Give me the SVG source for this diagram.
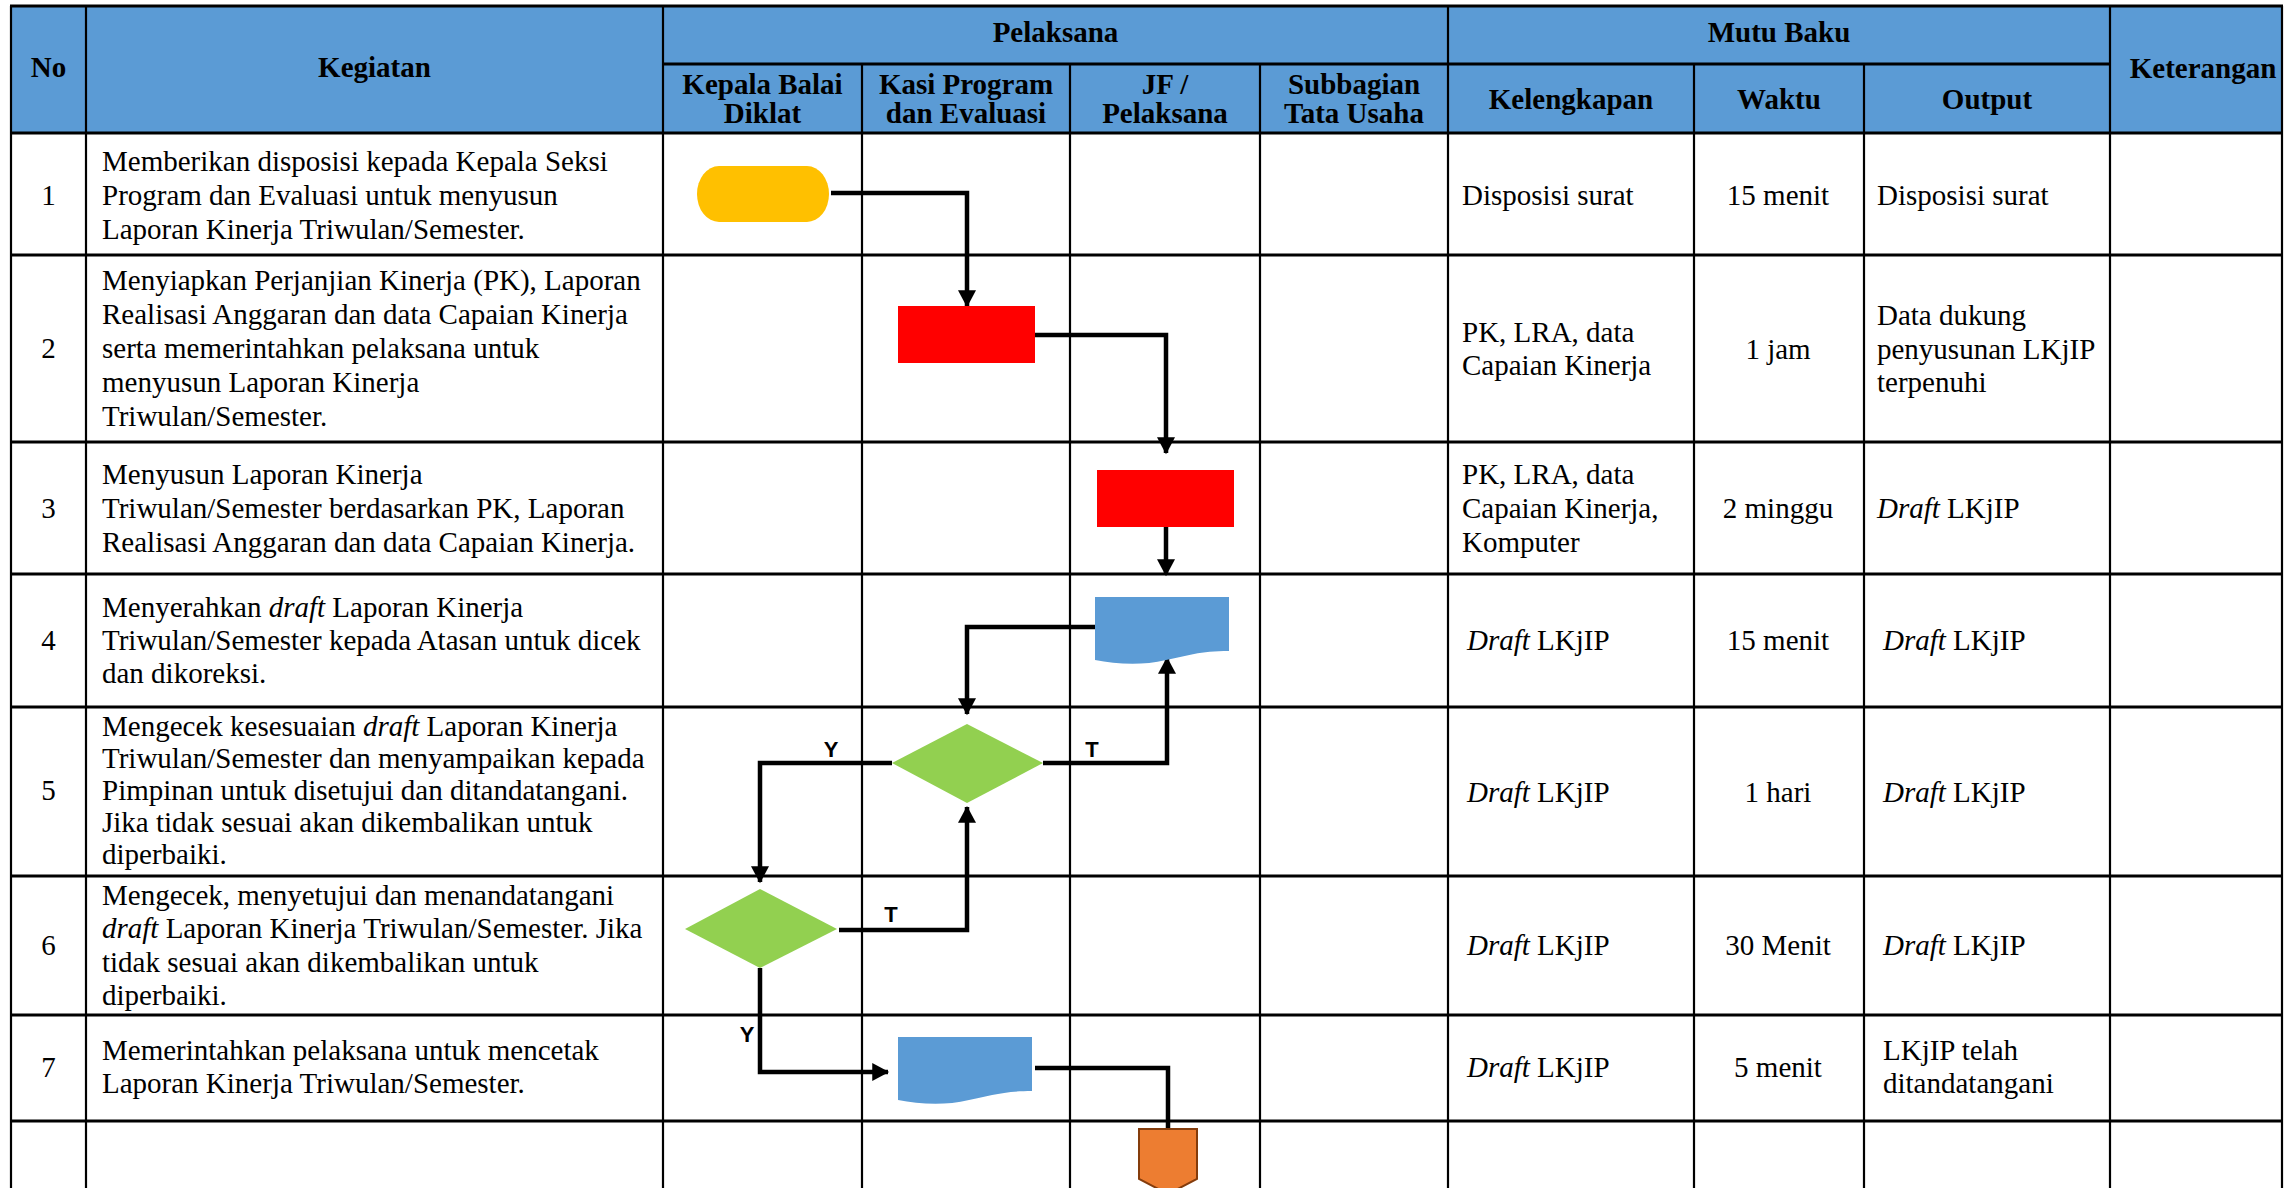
<svg xmlns="http://www.w3.org/2000/svg" width="2293" height="1188" viewBox="0 0 2293 1188">
<style>
.hdr{font-family:"Liberation Serif","Times New Roman",serif;font-weight:bold;font-size:29px;fill:#000}
.txt{font-family:"Liberation Serif","Times New Roman",serif;font-size:29px;fill:#000}
.lbl{font-family:"Liberation Sans",Arial,sans-serif;font-weight:bold;font-size:22px;fill:#000;text-anchor:middle}
.c{text-anchor:middle}
.i{font-style:italic}
.gh{stroke:#000;stroke-width:3}
.gv{stroke:#000;stroke-width:2.2}
.conn{fill:none;stroke:#000;stroke-width:4.5;stroke-linejoin:miter}
.proc{fill:#FF0000}
.doc{fill:#5B9BD5}
.dec{fill:#92D050}
</style>
<defs>
<marker id="arr" markerUnits="userSpaceOnUse" markerWidth="18" markerHeight="18" viewBox="0 0 15 16" refX="14" refY="8" orient="auto">
<path d="M0,0 L15,8 L0,16 Z" fill="#000"/>
</marker>
</defs>
<rect width="2293" height="1188" fill="#fff"/>
<g id="table">
<rect x="11" y="6" width="2271" height="127" fill="#5B9BD5"/>
<g class="grid">
<line class="gh" x1="10" y1="6" x2="2283" y2="6"/>
<line class="gh" x1="663" y1="64" x2="2110" y2="64"/>
<line class="gh" x1="10" y1="133" x2="2283" y2="133"/>
<line class="gh" x1="10" y1="255" x2="2283" y2="255"/>
<line class="gh" x1="10" y1="442" x2="2283" y2="442"/>
<line class="gh" x1="10" y1="574" x2="2283" y2="574"/>
<line class="gh" x1="10" y1="707" x2="2283" y2="707"/>
<line class="gh" x1="10" y1="876" x2="2283" y2="876"/>
<line class="gh" x1="10" y1="1015" x2="2283" y2="1015"/>
<line class="gh" x1="10" y1="1121" x2="2283" y2="1121"/>
<line class="gv" x1="11" y1="6" x2="11" y2="1188"/>
<line class="gv" x1="86" y1="6" x2="86" y2="1188"/>
<line class="gv" x1="663" y1="6" x2="663" y2="1188"/>
<line class="gv" x1="862" y1="64" x2="862" y2="1188"/>
<line class="gv" x1="1070" y1="64" x2="1070" y2="1188"/>
<line class="gv" x1="1260" y1="64" x2="1260" y2="1188"/>
<line class="gv" x1="1448" y1="6" x2="1448" y2="1188"/>
<line class="gv" x1="1694" y1="64" x2="1694" y2="1188"/>
<line class="gv" x1="1864" y1="64" x2="1864" y2="1188"/>
<line class="gv" x1="2110" y1="6" x2="2110" y2="1188"/>
<line class="gv" x1="2282" y1="6" x2="2282" y2="1188"/>
</g>
<g id="header">
<text class="hdr c" x="48.5" y="77">No</text>
<text class="hdr c" x="374.5" y="77">Kegiatan</text>
<text class="hdr c" x="1055.5" y="42">Pelaksana</text>
<text class="hdr c" x="1779" y="42">Mutu Baku</text>
<text class="hdr c" x="2203" y="78">Keterangan</text>
<text class="hdr c" x="762.5" y="94">Kepala Balai</text>
<text class="hdr c" x="762.5" y="123">Diklat</text>
<text class="hdr c" x="966" y="94">Kasi Program</text>
<text class="hdr c" x="966" y="123">dan Evaluasi</text>
<text class="hdr c" x="1165" y="94">JF /</text>
<text class="hdr c" x="1165" y="123">Pelaksana</text>
<text class="hdr c" x="1354" y="94">Subbagian</text>
<text class="hdr c" x="1354" y="123">Tata Usaha</text>
<text class="hdr c" x="1571" y="109">Kelengkapan</text>
<text class="hdr c" x="1779" y="109">Waktu</text>
<text class="hdr c" x="1987" y="109">Output</text>
</g>
<g id="nomor" class="txt c">
<text x="48.5" y="205">1</text>
<text x="48.5" y="358">2</text>
<text x="48.5" y="518">3</text>
<text x="48.5" y="650">4</text>
<text x="48.5" y="800">5</text>
<text x="48.5" y="955">6</text>
<text x="48.5" y="1077">7</text>
</g>
<g id="kegiatan" class="txt">
<text x="102" y="171">Memberikan disposisi kepada Kepala Seksi</text>
<text x="102" y="205">Program dan Evaluasi untuk menyusun</text>
<text x="102" y="239">Laporan Kinerja Triwulan/Semester.</text>
<text x="102" y="290">Menyiapkan Perjanjian Kinerja (PK), Laporan</text>
<text x="102" y="324">Realisasi Anggaran dan data Capaian Kinerja</text>
<text x="102" y="358">serta memerintahkan pelaksana untuk</text>
<text x="102" y="392">menyusun Laporan Kinerja</text>
<text x="102" y="426">Triwulan/Semester.</text>
<text x="102" y="484">Menyusun Laporan Kinerja</text>
<text x="102" y="518">Triwulan/Semester berdasarkan PK, Laporan</text>
<text x="102" y="552">Realisasi Anggaran dan data Capaian Kinerja.</text>
<text x="102" y="617">Menyerahkan <tspan class="i">draft</tspan> Laporan Kinerja</text>
<text x="102" y="650">Triwulan/Semester kepada Atasan untuk dicek</text>
<text x="102" y="683">dan dikoreksi.</text>
<text x="102" y="736">Mengecek kesesuaian <tspan class="i">draft</tspan> Laporan Kinerja</text>
<text x="102" y="768">Triwulan/Semester dan menyampaikan kepada</text>
<text x="102" y="800">Pimpinan untuk disetujui dan ditandatangani.</text>
<text x="102" y="832">Jika tidak sesuai akan dikembalikan untuk</text>
<text x="102" y="864">diperbaiki.</text>
<text x="102" y="905">Mengecek, menyetujui dan menandatangani</text>
<text x="102" y="938"><tspan class="i">draft</tspan> Laporan Kinerja Triwulan/Semester. Jika</text>
<text x="102" y="972">tidak sesuai akan dikembalikan untuk</text>
<text x="102" y="1005">diperbaiki.</text>
<text x="102" y="1060">Memerintahkan pelaksana untuk mencetak</text>
<text x="102" y="1093">Laporan Kinerja Triwulan/Semester.</text>
</g>
<g id="kelengkapan" class="txt">
<text x="1462" y="205">Disposisi surat</text>
<text x="1462" y="342">PK, LRA, data</text>
<text x="1462" y="375">Capaian Kinerja</text>
<text x="1462" y="484">PK, LRA, data</text>
<text x="1462" y="518">Capaian Kinerja,</text>
<text x="1462" y="552">Komputer</text>
<text x="1467" y="650"><tspan class="i">Draft</tspan> LKjIP</text>
<text x="1467" y="802"><tspan class="i">Draft</tspan> LKjIP</text>
<text x="1467" y="955"><tspan class="i">Draft</tspan> LKjIP</text>
<text x="1467" y="1077"><tspan class="i">Draft</tspan> LKjIP</text>
</g>
<g id="waktu" class="txt c">
<text x="1778" y="205">15 menit</text>
<text x="1778" y="359">1 jam</text>
<text x="1778" y="518">2 minggu</text>
<text x="1778" y="650">15 menit</text>
<text x="1778" y="802">1 hari</text>
<text x="1778" y="955">30 Menit</text>
<text x="1778" y="1077">5 menit</text>
</g>
<g id="output" class="txt">
<text x="1877" y="205">Disposisi surat</text>
<text x="1877" y="325">Data dukung</text>
<text x="1877" y="359">penyusunan LKjIP</text>
<text x="1877" y="392">terpenuhi</text>
<text x="1877" y="518"><tspan class="i">Draft</tspan> LKjIP</text>
<text x="1883" y="650"><tspan class="i">Draft</tspan> LKjIP</text>
<text x="1883" y="802"><tspan class="i">Draft</tspan> LKjIP</text>
<text x="1883" y="955"><tspan class="i">Draft</tspan> LKjIP</text>
<text x="1883" y="1060">LKjIP telah</text>
<text x="1883" y="1093">ditandatangani</text>
</g>
</g>
<g id="connectors">
<path class="conn" d="M831,193 H967 V306" marker-end="url(#arr)"/>
<path class="conn" d="M1035,335 H1166 V453" marker-end="url(#arr)"/>
<path class="conn" d="M1166,527 V575" marker-end="url(#arr)"/>
<path class="conn" d="M1095,627 H967 V714" marker-end="url(#arr)"/>
<path class="conn" d="M1043,763 H1167 V658" marker-end="url(#arr)"/>
<path class="conn" d="M892,763 H760 V882" marker-end="url(#arr)"/>
<path class="conn" d="M839,930 H967 V807" marker-end="url(#arr)"/>
<path class="conn" d="M760,968 V1072 H888" marker-end="url(#arr)"/>
<path class="conn" d="M1035,1068 H1168 V1129"/>
<text class="lbl" x="831" y="757">Y</text>
<text class="lbl" x="1092" y="757">T</text>
<text class="lbl" x="891" y="922">T</text>
<text class="lbl" x="747" y="1042">Y</text>
</g>
<g id="n1-mulai">
<rect x="697" y="166" width="132" height="56" rx="22" ry="28" fill="#FFC000"/>
</g>
<g id="n2-siapkan">
<rect class="proc" x="898" y="306" width="137" height="57"/>
</g>
<g id="n3-susun">
<rect class="proc" x="1097" y="470" width="137" height="57"/>
</g>
<g id="n4-draft">
<path class="doc" d="M1095,597 H1229 V651 C1200,651 1186,656 1166,660 C1141,666 1116,664 1095,660 Z"/>
</g>
<g id="n5-cek">
<polygon class="dec" points="967,724 1043,763 967,803 892,763"/>
</g>
<g id="n6-setujui">
<polygon class="dec" points="760,889 837,929 760,968 685,929"/>
</g>
<g id="n7-cetak">
<path class="doc" d="M898,1037 H1032 V1091 C1003,1091 989,1096 969,1100 C944,1106 919,1104 898,1100 Z"/>
</g>
<g id="n8-offpage">
<polygon points="1139,1129 1197,1129 1197,1179 1168,1194 1139,1179" fill="#ED7D31" stroke="#843C0C" stroke-width="2"/>
</g>
</svg>
